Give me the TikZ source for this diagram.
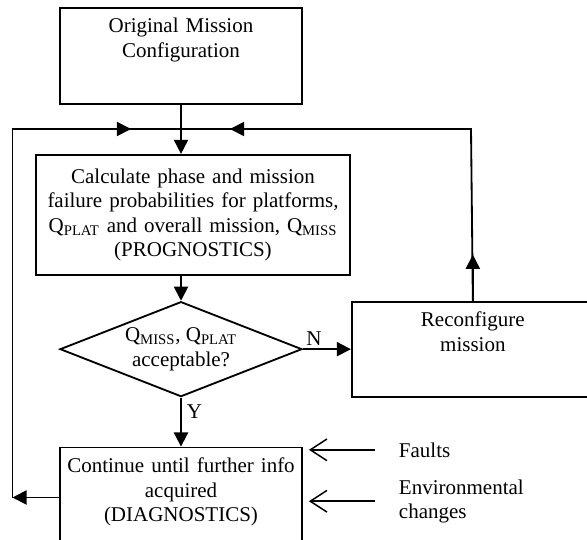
\documentclass[tikz,border=0pt]{standalone}
\usepackage{fontspec}
\setmainfont{Liberation Serif}
\usetikzlibrary{positioning,shapes.geometric,arrows.meta}

\begin{document}
\begin{tikzpicture}[x=1pt, y=1pt, line width=1.1pt,
>={Triangle[length=8.5pt,width=8.5pt]},
box/.style = {draw, align=center, inner xsep=1pt, inner ysep=0pt, text width=143.2pt},
topbox/.style = {box, text height=15pt},
decision/.style = {draw, diamond, shape aspect=2.55, align=center, inner sep=0pt,
  minimum width=145.2pt, minimum height=57pt},
inputarrow/.style = {line width=0.9pt, {Straight Barb[length=10pt,width=13pt]}-, shorten <=3.6pt, shorten >=13.8pt}]
\tikzstyle{every node}=[font=\fontsize{12.6}{14.7}\selectfont]
\useasboundingbox (0,0) rectangle (352.2,-323.4);
% boxes
\node[topbox, text depth=42.6pt] (orig) at (108.6,-33.6) {Original Mission\\Configuration};
\node[box, text width=186.4pt, minimum height=72pt] (calc) [below=29.4pt of orig, xshift=7.2pt]
  {Calculate phase and mission\\failure probabilities for platforms,\\Q\textsubscript{PLAT} and overall mission, Q\textsubscript{MISS}\\(PROGNOSTICS)};
\node[decision] (check) [below=15pt of calc, xshift=-7.2pt] {Q\textsubscript{MISS}, Q\textsubscript{PLAT}\\acceptable?};
\node[topbox, text depth=42pt] (reconf) [right=28.8pt of check] {Reconfigure\\mission};
\node[topbox, text depth=45pt] (cont) [below=29.4pt of check] {Continue until further info\\acquired\\(DIAGNOSTICS)};
% inputs
\node[anchor=base west, inner sep=0pt] (faults) at (238.8,-274.2) {Faults};
\node[anchor=base west, inner sep=0pt, text width=90pt, align=left] (env) at (238.8,-296.4) {Environmental\\changes};
% loop corners
\coordinate (loopR) at (282.6,-77.4);
\coordinate (loopL) at (7.5,-77.4);
\coordinate (join) at (orig.south |- loopR);
% connectors
\draw[->] (orig.south) -- (orig.south |- calc.north);
\draw[->] (check.north |- calc.south) -- (check.north);
\draw[->] (check.east) -- node[pos=0.23, above, inner sep=1.5pt] {N} (reconf.west);
\draw[->] (check.south) -- node[pos=0.29, right, inner sep=3pt] {Y} (cont.north);
\draw (reconf.north) -- (loopR) -- (join);
\draw[->] (reconf.north) -- ++(0,27.6);
\draw[->] (loopR) -- ++(-144.6,0);
\draw[->] (cont.west) -- (cont.west -| loopL);
\draw (cont.west -| loopL) -- (loopL) -- (join);
\draw[->] (loopL) -- ++(71.1,0);
\draw[inputarrow] (faults.west -| cont.east) -- (faults.west);
\draw[inputarrow] (env.west -| cont.east) -- (env.west);
\end{tikzpicture}
\end{document}
